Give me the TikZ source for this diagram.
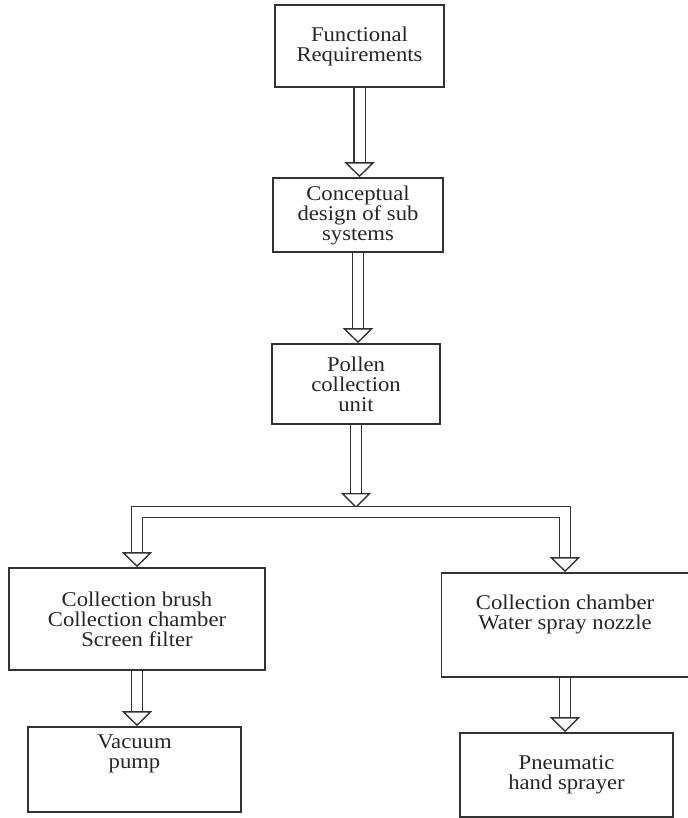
\documentclass[tikz,border=0pt]{standalone}
\usepackage{fontspec}
\setmainfont{Liberation Serif}[FakeStretch=1.08]
\usetikzlibrary{arrows.meta, calc, positioning}

\tikzset{
  blockbox/.style={draw=black!80, line width=0.8pt, align=center, text=black!85,
    font=\fontsize{10.5}{10}\selectfont},
  hollowarrow/.style={draw=black!80, double=white, double distance=5pt, line width=0.7pt,
    -{Triangle[open, width=15pt, length=7.5pt]}}
}

\begin{document}
\begin{tikzpicture}[x=0.5pt, y=-0.5pt]
\useasboundingbox (0,0) rectangle (688,818);

\node[blockbox, minimum width=84.5pt, minimum height=41pt] (req) at (359.5,46) {Functional\\Requirements};

\node[blockbox, minimum width=85pt, minimum height=37pt] (design) at (358,215) {Conceptual\\design of sub\\systems};

\node[blockbox, minimum width=84pt, minimum height=40pt] (unit) at (356,384) {Pollen\\collection\\unit};

\node[blockbox, minimum width=128pt, minimum height=51pt] (brush) at (137,619) {Collection brush\\Collection chamber\\Screen filter};

\node[blockbox, minimum width=123.5pt, minimum height=52pt] (nozzle) at (565,625) {Collection chamber\\Water spray nozzle\\[3pt]};

\node[blockbox, minimum width=106.5pt, minimum height=42.5pt] (pump) at (134.5,769.5) {Vacuum\\pump\\[7.5pt]};

\node[blockbox, minimum width=106.5pt, minimum height=42pt] (sprayer) at (566.5,775) {Pneumatic\\hand sprayer};

\coordinate (split) at (355,512);

\draw[hollowarrow] (req.south) -- (req.south |- design.north);
\draw[hollowarrow] (design.south) -- (design.south |- unit.north);
\draw[hollowarrow, shorten >=2pt] (unit.south) -- (unit.south |- split);
\draw[hollowarrow, {Triangle[open, width=15pt, length=7.5pt]}-{Triangle[open, width=15pt, length=7.5pt]}] (brush.north) |- (split) -| (nozzle.north);
\draw[hollowarrow] (brush.south) -- (brush.south |- pump.north);
\draw[hollowarrow] (nozzle.south) -- (nozzle.south |- sprayer.north);

\end{tikzpicture}
\end{document}
